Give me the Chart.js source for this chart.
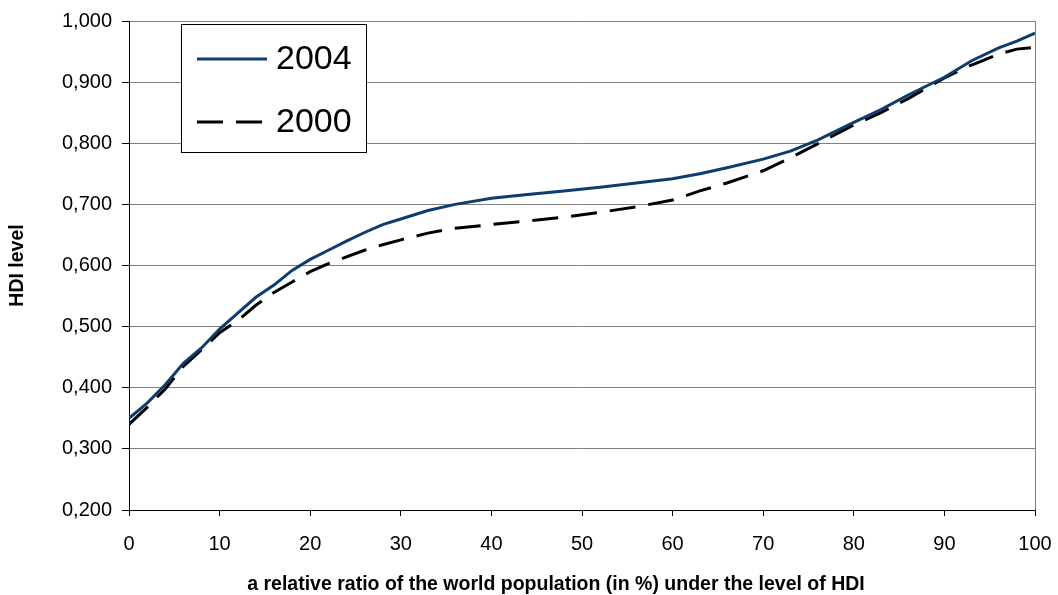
<!DOCTYPE html>
<html>
<head>
<meta charset="utf-8">
<script src="https://cdn.jsdelivr.net/npm/chart.js@4/dist/chart.umd.min.js"></script>
<style>
  body { margin: 0; background: #fff; }
  #hdi { display: block; }
</style>
</head>
<body>
<canvas id="hdi" width="1058" height="595"></canvas>
<script>
// datos (x = % de poblacion, y = nivel de IDH)
const xPct    = [0, 2, 4, 6, 8, 10, 12, 14, 16, 18, 20, 22, 24, 26, 28, 30, 33, 36, 40, 44, 48, 52, 56, 60, 63, 66, 70, 73, 76, 80, 83, 86, 90, 93, 96, 98, 100];
const hdi2004 = [0.350, 0.375, 0.405, 0.440, 0.465, 0.496, 0.522, 0.548, 0.568, 0.592, 0.610, 0.625, 0.640, 0.654, 0.667, 0.676, 0.690, 0.700, 0.710, 0.716, 0.722, 0.728, 0.735, 0.742, 0.750, 0.760, 0.774, 0.787, 0.805, 0.834, 0.855, 0.879, 0.908, 0.935, 0.956, 0.967, 0.980];
const hdi2000 = [0.340, 0.368, 0.398, 0.435, 0.462, 0.490, 0.510, 0.535, 0.556, 0.573, 0.590, 0.603, 0.614, 0.625, 0.634, 0.642, 0.653, 0.661, 0.667, 0.673, 0.679, 0.687, 0.696, 0.707, 0.722, 0.735, 0.755, 0.776, 0.799, 0.830, 0.850, 0.873, 0.907, 0.928, 0.946, 0.954, 0.957];
const seriesNames = ['2004', '2000'];
const xTitle = 'a relative ratio of the world population (in %) under the level of HDI';
const yTitle = 'HDI level';

const FONT = "'Liberation Sans', Arial, sans-serif";

// leyenda y titulo del eje x dibujados a mano
const legendBox = {
  id: 'legendBox',
  afterDraw(chart) {
    const ctx = chart.ctx;
    ctx.save();
    ctx.fillStyle = '#fff';
    ctx.fillRect(181.5, 24.5, 185, 128);
    ctx.strokeStyle = '#000';
    ctx.lineWidth = 1;
    ctx.strokeRect(181.5, 24.5, 185, 128);
    chart.data.datasets.forEach((ds, i) => {
      const y = 59 + i * 63;
      ctx.strokeStyle = ds.borderColor;
      ctx.lineWidth = ds.borderWidth;
      ctx.setLineDash(ds.borderDash || []);
      ctx.beginPath();
      ctx.moveTo(197, y);
      ctx.lineTo(267, y);
      ctx.stroke();
      ctx.setLineDash([]);
      ctx.fillStyle = '#000';
      ctx.font = '34px ' + FONT;
      ctx.textBaseline = 'middle';
      ctx.fillText(ds.label, 276, y + 1);
    });
    // titulo del eje x (en el original no esta centrado sobre el area)
    ctx.font = 'bold 19.5px ' + FONT;
    ctx.textAlign = 'center';
    ctx.textBaseline = 'middle';
    ctx.fillText(xTitle, 556, 585);
    ctx.restore();
  }
};

new Chart(document.getElementById('hdi'), {
  type: 'line',
  data: {
    datasets: [
      {
        label: seriesNames[0],
        data: xPct.map((x, i) => ({ x: x, y: hdi2004[i] })),
        borderColor: '#0d3c6e',
        borderWidth: 3,
        pointRadius: 0,
        tension: 0
      },
      {
        label: seriesNames[1],
        data: xPct.map((x, i) => ({ x: x, y: hdi2000[i] })),
        borderColor: '#000000',
        borderWidth: 3,
        borderDash: [26, 13],
        pointRadius: 0,
        tension: 0
      }
    ]
  },
  options: {
    responsive: false,
    animation: false,
    layout: { padding: { top: 21, right: 23, left: 0, bottom: 0 } },
    plugins: {
      legend: { display: false },
      tooltip: { enabled: false }
    },
    scales: {
      x: {
        type: 'linear',
        min: 0,
        max: 100,
        afterFit: s => { s.height = 85; s.paddingRight = 0; s.paddingLeft = 0; },
        ticks: { stepSize: 10, color: '#000', padding: 16, font: { family: FONT, size: 20 } },
        grid: {
          color: c => (c.tick && c.tick.value === 100 ? '#808080' : 'rgba(0,0,0,0)'),
          tickColor: '#000',
          tickLength: 6
        },
        border: { color: '#000', width: 1 }
      },
      y: {
        min: 0.2,
        max: 1.0,
        afterFit: s => { s.width = 129; s.paddingTop = 0; s.paddingBottom = 0; },
        ticks: {
          stepSize: 0.1,
          color: '#000',
          padding: 10,
          font: { family: FONT, size: 20 },
          callback: v => v.toFixed(3).replace('.', ',')
        },
        grid: { color: '#808080', tickColor: '#000', tickLength: 7 },
        border: { color: '#000', width: 1 },
        title: {
          display: true,
          text: yTitle,
          color: '#000',
          font: { family: FONT, size: 19.5, weight: 'bold' },
          padding: { top: 6, bottom: 0 }
        }
      }
    }
  },
  plugins: [legendBox]
});
</script>
</body>
</html>
